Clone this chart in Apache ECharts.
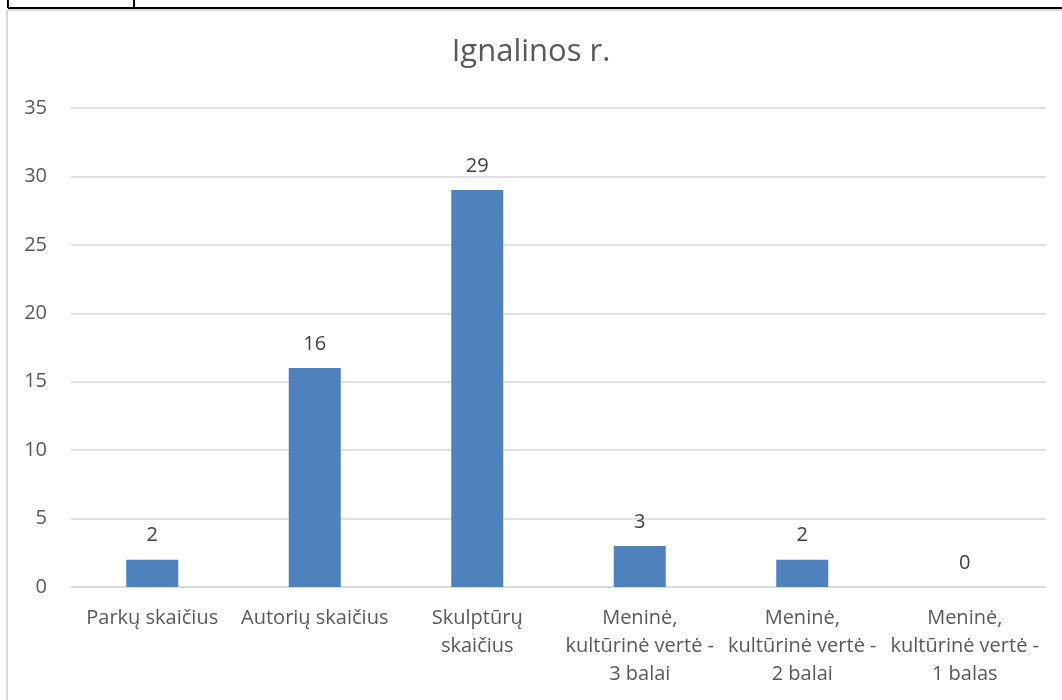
<!DOCTYPE html>
<html><head><meta charset="utf-8">
<script src="https://cdn.jsdelivr.net/npm/echarts@6/dist/echarts.min.js"></script>
<style>html,body{margin:0;padding:0;background:#fff;}#c{width:1062px;height:700px;}</style>
</head><body><div id="c"></div>
<script>
const categories = ["Parkų skaičius", "Autorių skaičius", "Skulptūrų\nskaičius", "Meninė,\nkultūrinė vertė -\n3 balai", "Meninė,\nkultūrinė vertė -\n2 balai", "Meninė,\nkultūrinė vertė -\n1 balas"];
const values = [2, 16, 29, 3, 2, 0];
const title = "Ignalinos r.";
const font = "'Open Sans', Lato, sans-serif";
const chart = echarts.init(document.getElementById('c'));
chart.setOption({
  animation: false,
  title: {text: title, left: 'center', top: 32, textStyle: {fontFamily: font, fontSize: 31, fontWeight: 'normal', color: '#595959'}},
  grid: {left: 71, right: 16, top: 108, bottom: 113},
  xAxis: {type: 'category', data: categories,
    axisLine: {lineStyle: {color: '#d9d9d9', width: 1.5}}, axisTick: {show: false},
    axisLabel: {interval: 0, margin: 17, fontFamily: font, fontSize: 20, color: '#595959', lineHeight: 28, align: 'center'}},
  yAxis: {type: 'value', min: 0, max: 35, interval: 5,
    axisLine: {show: false}, axisTick: {show: false},
    splitLine: {lineStyle: {color: '#d9d9d9', width: 1.5}},
    axisLabel: {margin: 24, fontFamily: font, fontSize: 20, color: '#595959'}},
  series: [{type: 'bar', data: values, barWidth: '32%', itemStyle: {color: '#4f81bd'},
    label: {show: true, position: 'top', distance: 14, fontFamily: font, fontSize: 20, color: '#404040'}}],
  graphic: [
    {type: 'line', shape: {x1: 7, y1: 10, x2: 1062, y2: 10}, style: {stroke: '#d9d9d9', lineWidth: 2}},
    {type: 'line', shape: {x1: 7, y1: 10, x2: 7, y2: 700}, style: {stroke: '#d9d9d9', lineWidth: 2}},
    {type: 'line', shape: {x1: 8, y1: 8, x2: 1062, y2: 8}, style: {stroke: '#000', lineWidth: 2}},
    {type: 'line', shape: {x1: 8, y1: 0, x2: 8, y2: 8}, style: {stroke: '#000', lineWidth: 2}},
    {type: 'line', shape: {x1: 134, y1: 0, x2: 134, y2: 8}, style: {stroke: '#000', lineWidth: 2}}
  ]
});
</script></body></html>
